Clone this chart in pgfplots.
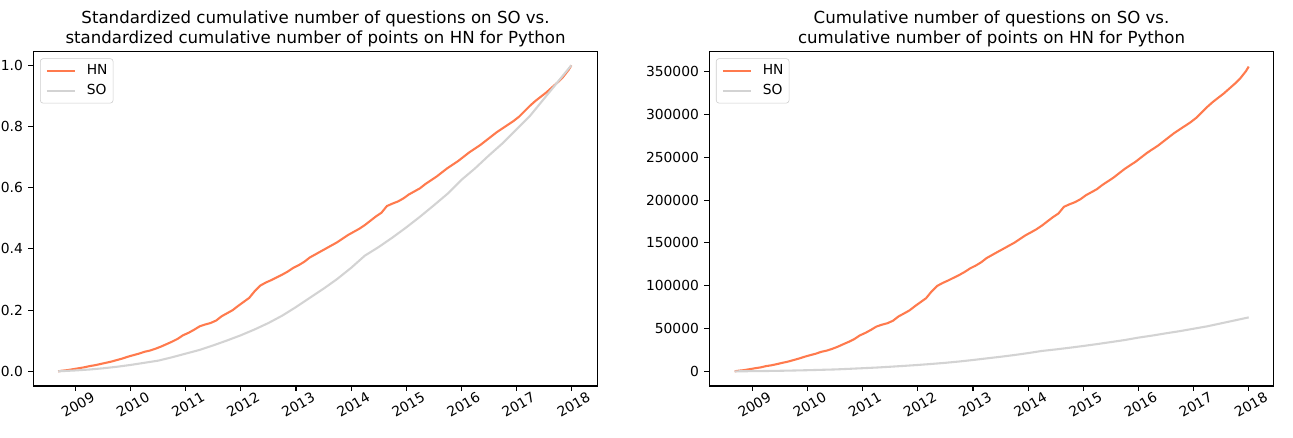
\documentclass[border=0pt]{standalone}
\usepackage{fontspec}
\setmainfont{DejaVu Sans}
\usepackage{pgfplots}
\pgfplotsset{compat=1.18}
\usepackage{pgfplotstable}
\definecolor{hn}{HTML}{FF7A4D}
\definecolor{so}{HTML}{D3D3D3}

\pgfplotstableread{
x y
2008.68 0.000
2008.75 0.002
2008.85 0.004
2008.95 0.007
2009.05 0.010
2009.15 0.013
2009.25 0.017
2009.35 0.020
2009.45 0.024
2009.55 0.028
2009.65 0.032
2009.75 0.037
2009.85 0.042
2009.95 0.048
2010.05 0.053
2010.15 0.058
2010.25 0.064
2010.35 0.068
2010.45 0.074
2010.55 0.081
2010.65 0.089
2010.75 0.097
2010.85 0.106
2010.95 0.118
2011.05 0.126
2011.15 0.136
2011.25 0.147
2011.35 0.153
2011.45 0.158
2011.55 0.166
2011.65 0.180
2011.75 0.190
2011.85 0.200
2011.95 0.214
2012.05 0.227
2012.15 0.240
2012.25 0.262
2012.35 0.280
2012.45 0.290
2012.55 0.298
2012.65 0.307
2012.75 0.316
2012.85 0.326
2012.95 0.338
2013.05 0.347
2013.15 0.358
2013.25 0.372
2013.35 0.382
2013.45 0.392
2013.55 0.402
2013.65 0.412
2013.75 0.422
2013.85 0.434
2013.95 0.446
2014.05 0.456
2014.15 0.466
2014.25 0.478
2014.35 0.492
2014.45 0.506
2014.55 0.518
2014.65 0.540
2014.75 0.548
2014.85 0.555
2014.95 0.565
2015.05 0.578
2015.15 0.588
2015.25 0.598
2015.35 0.612
2015.45 0.624
2015.55 0.636
2015.65 0.650
2015.75 0.664
2015.85 0.676
2015.95 0.688
2016.05 0.702
2016.15 0.716
2016.25 0.728
2016.35 0.740
2016.45 0.754
2016.55 0.768
2016.65 0.782
2016.75 0.794
2016.85 0.806
2016.95 0.818
2017.05 0.832
2017.15 0.850
2017.25 0.868
2017.35 0.884
2017.45 0.898
2017.55 0.912
2017.65 0.928
2017.75 0.944
2017.85 0.962
2017.95 0.985
2018.00 1.000
}\hnnorm

\pgfplotstableread{
x y
2008.68 0.000
2009.00 0.003
2009.25 0.006
2009.50 0.010
2009.75 0.015
2010.00 0.021
2010.25 0.028
2010.50 0.035
2010.75 0.046
2011.00 0.058
2011.25 0.070
2011.50 0.085
2011.75 0.101
2012.00 0.118
2012.25 0.137
2012.50 0.158
2012.75 0.182
2013.00 0.210
2013.25 0.240
2013.50 0.270
2013.75 0.302
2014.00 0.338
2014.25 0.378
2014.50 0.406
2014.75 0.437
2015.00 0.470
2015.25 0.505
2015.50 0.542
2015.75 0.580
2016.00 0.625
2016.25 0.663
2016.50 0.705
2016.75 0.745
2017.00 0.790
2017.25 0.835
2017.50 0.890
2017.75 0.945
2018.00 1.000
}\sonorm

\pgfplotstableread{
x y
2008.68 0
2008.75 700
2008.85 1400
2008.95 2500
2009.05 3600
2009.15 4600
2009.25 6100
2009.35 7100
2009.45 8500
2009.55 10000
2009.65 11400
2009.75 13200
2009.85 15000
2009.95 17100
2010.05 18900
2010.15 20600
2010.25 22800
2010.35 24200
2010.45 26300
2010.55 28800
2010.65 31700
2010.75 34500
2010.85 37700
2010.95 42000
2011.05 44900
2011.15 48400
2011.25 52300
2011.35 54500
2011.45 56200
2011.55 59100
2011.65 64100
2011.75 67600
2011.85 71200
2011.95 76200
2012.05 80800
2012.15 85400
2012.25 93300
2012.35 99700
2012.45 103200
2012.55 106100
2012.65 109300
2012.75 112500
2012.85 116100
2012.95 120300
2013.05 123500
2013.15 127400
2013.25 132400
2013.35 136000
2013.45 139600
2013.55 143100
2013.65 146700
2013.75 150200
2013.85 154500
2013.95 158800
2014.05 162300
2014.15 165900
2014.25 170200
2014.35 175200
2014.45 180100
2014.55 184400
2014.65 192200
2014.75 195100
2014.85 197600
2014.95 201100
2015.05 205800
2015.15 209300
2015.25 212900
2015.35 217900
2015.45 222100
2015.55 226400
2015.65 231400
2015.75 236400
2015.85 240700
2015.95 244900
2016.05 249900
2016.15 254900
2016.25 259200
2016.35 263400
2016.45 268400
2016.55 273400
2016.65 278400
2016.75 282700
2016.85 286900
2016.95 291200
2017.05 296200
2017.15 302600
2017.25 309000
2017.35 314700
2017.45 319700
2017.55 324700
2017.65 330400
2017.75 336100
2017.85 342500
2017.95 350700
2018.00 356000
}\hnraw

\pgfplotstableread{
x y
2008.68 0
2009.00 190
2009.25 380
2009.50 630
2009.75 950
2010.00 1320
2010.25 1760
2010.50 2200
2010.75 2900
2011.00 3650
2011.25 4410
2011.50 5360
2011.75 6360
2012.00 7430
2012.25 8630
2012.50 9950
2012.75 11470
2013.00 13230
2013.25 15120
2013.50 17010
2013.75 19030
2014.00 21290
2014.25 23810
2014.50 25580
2014.75 27530
2015.00 29610
2015.25 31820
2015.50 34150
2015.75 36540
2016.00 39380
2016.25 41770
2016.50 44420
2016.75 46940
2017.00 49770
2017.25 52610
2017.50 56070
2017.75 59540
2018.00 63000
}\soraw

\pgfplotsset{
  mpl/.style={
    scale only axis,
    width=406.4bp, height=240.7bp,
    xtick={2009,2010,2011,2012,2013,2014,2015,2016,2017,2018},
    tick align=outside, tick pos=left,
    major tick length=3.5bp,
    every tick/.append style={black, line width=0.8bp},
    axis line style={line width=0.8bp},
    /pgf/number format/assume math mode=true,
    tick label style={font=\fontsize{10}{12}\selectfont},
    x tick label style={rotate=30, anchor=north east, inner sep=0pt,
      xshift=9.2bp, yshift=-5.5bp, /pgf/number format/1000 sep={}},
    y tick label style={inner sep=0pt, xshift=-3.8bp},
    title style={font=\fontsize{12}{14.4}\selectfont, align=center,
      inner sep=0pt, anchor=south, yshift=-2.6bp},
    legend cell align=left,
    legend image code/.code={\draw[#1] (0bp,0bp) -- (20bp,0bp);},
    legend style={at={(0,1)}, anchor=north west, xshift=4.8bp, yshift=-4.8bp,
      draw=black!20, rounded corners=2bp, fill=white,
      font=\fontsize{10}{12}\selectfont,
      inner xsep=4bp, inner ysep=4bp, row sep=5bp,
      nodes={inner sep=0pt, text height=7.5bp, text depth=2bp},
      /tikz/every odd column/.append style={column sep=8bp}},
  }
}

\begin{document}
\begin{tikzpicture}
\path[use as bounding box] (0,0) rectangle (930.96bp,314.64bp);
\begin{axis}[mpl, at={(24bp,36.7bp)}, anchor=south west,
  xmin=2008.23, xmax=2018.48, ymin=-0.048, ymax=1.0444,
  ytick={0,0.2,0.4,0.6,0.8,1.0},
  yticklabel style={/pgf/number format/.cd, fixed, fixed zerofill, precision=1},
  title={Standardized cumulative number of questions on SO vs.\\standardized cumulative number of points on HN for Python}]
\addplot[hn, line width=1.5bp] table {\hnnorm};
\addlegendentry{HN}
\addplot[so, line width=1.5bp] table {\sonorm};
\addlegendentry{SO}
\end{axis}
\begin{axis}[mpl, at={(510.7bp,36.7bp)}, anchor=south west,
  xmin=2008.22, xmax=2018.454, ymin=-17170, ymax=373360,
  ytick={0,50000,100000,150000,200000,250000,300000,350000},
  scaled y ticks=false,
  yticklabel style={/pgf/number format/.cd, fixed, 1000 sep={}},
  title={Cumulative number of questions on SO vs.\\cumulative number of points on HN for Python}]
\addplot[hn, line width=1.5bp] table {\hnraw};
\addlegendentry{HN}
\addplot[so, line width=1.5bp] table {\soraw};
\addlegendentry{SO}
\end{axis}
\end{tikzpicture}
\end{document}
